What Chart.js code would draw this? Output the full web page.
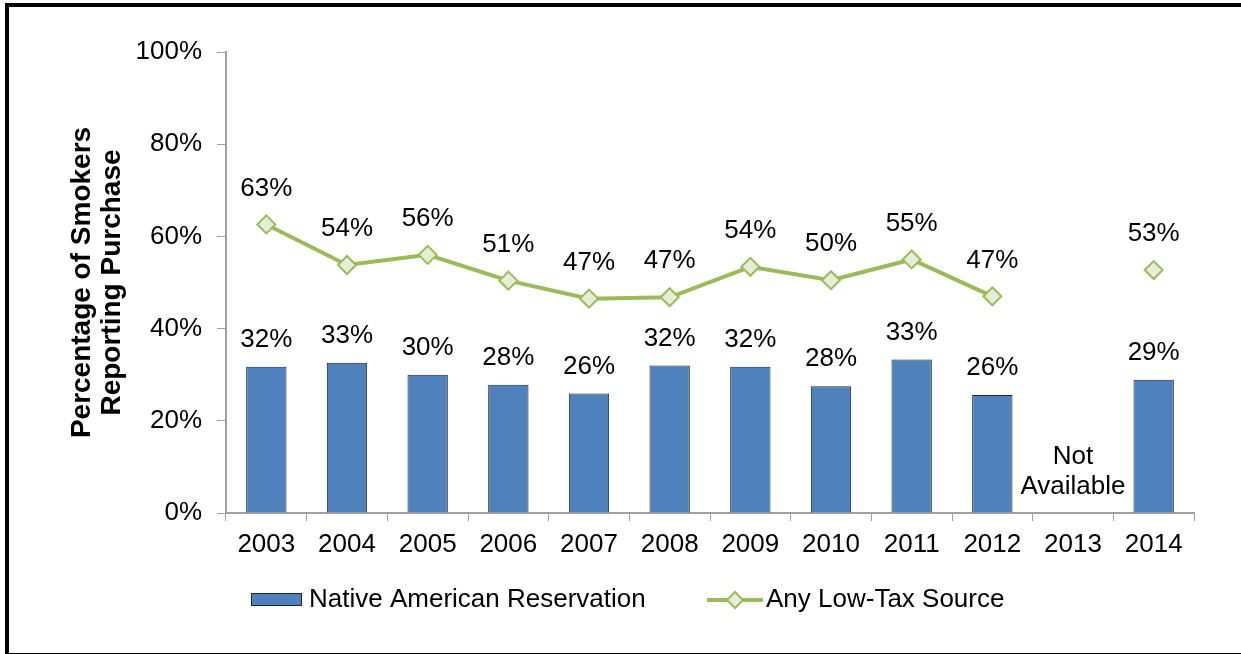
<!DOCTYPE html>
<html>
<head>
<meta charset="utf-8">
<script src="https://cdn.jsdelivr.net/npm/chart.js@4.4.1/dist/chart.umd.min.js"></script>
<style>
    html, body { margin: 0; padding: 0; background: #fff; overflow: hidden; }
    #wrap { position: relative; width: 1241px; height: 654px; }
    #frame {
        position: absolute; left: 5px; top: 3px; width: 1300px; height: 646px;
        border-left: 4px solid #000; border-top: 4px solid #000; border-bottom: 2px solid #000;
        pointer-events: none;
    }
</style>
</head>
<body>
<div id="wrap">
    <canvas id="smokers_chart" width="1241" height="654"></canvas>
    <div id="frame"></div>
</div>
<script>
const years = ['2003', '2004', '2005', '2006', '2007', '2008', '2009', '2010', '2011', '2012', '2013', '2014'];
const reservation = [31.7, 32.6, 30.0, 27.8, 25.9, 32.0, 31.7, 27.5, 33.3, 25.6, null, 28.9];
const lowTax = [62.6, 53.8, 56.0, 50.4, 46.5, 46.8, 53.4, 50.5, 55.0, 47.0, null, 52.7];
const reservationLabels = ['32%', '33%', '30%', '28%', '26%', '32%', '32%', '28%', '33%', '26%', null, '29%'];
const lowTaxLabels = ['63%', '54%', '56%', '51%', '47%', '47%', '54%', '50%', '55%', '47%', null, '53%'];
const yTicks = [0, 20, 40, 60, 80, 100];

let colors = {
    'bar': '#4F81BD',
    'bar_border': '#172538',
    'line': '#9BBB59',
    'marker': '#E5EDD6',
    'axis': '#A0A0A0',
    'text': '#000',
}

const fontFamily = "'Liberation Sans', Arial, sans-serif";
const fontSize = 26;

// value labels, the "Not Available" note and the legend at the bottom
const annotations = {
    id: 'annotations',
    afterDatasetsDraw(chart) {
        const ctx = chart.ctx;
        ctx.save();
        ctx.fillStyle = colors.text;
        ctx.font = `${fontSize}px ${fontFamily}`;
        ctx.textAlign = 'center';
        ctx.textBaseline = 'middle';

        chart.getDatasetMeta(0).data.forEach((bar, i) => {
            if (reservationLabels[i] == null) return;
            ctx.fillText(reservationLabels[i], bar.x, bar.y - 27);
        });
        chart.getDatasetMeta(1).data.forEach((pt, i) => {
            if (lowTaxLabels[i] == null) return;
            ctx.fillText(lowTaxLabels[i], pt.x, pt.y - 36);
        });

        const xNA = chart.scales.x.getPixelForValue(10);
        ctx.fillText('Not', xNA, 457);
        ctx.fillText('Available', xNA, 487);

        // legend
        ctx.textAlign = 'left';
        ctx.fillStyle = colors.bar;
        ctx.fillRect(251, 593, 51, 13);
        ctx.strokeStyle = colors.bar_border;
        ctx.lineWidth = 1;
        ctx.strokeRect(251.5, 593.5, 50, 12);
        ctx.fillStyle = colors.text;
        ctx.fillText('Native American Reservation', 309, 600);

        ctx.strokeStyle = colors.line;
        ctx.lineWidth = 4;
        ctx.beginPath();
        ctx.moveTo(707, 600);
        ctx.lineTo(763, 600);
        ctx.stroke();
        ctx.fillStyle = colors.marker;
        ctx.lineWidth = 2;
        ctx.beginPath();
        ctx.moveTo(735, 592);
        ctx.lineTo(743, 600);
        ctx.lineTo(735, 608);
        ctx.lineTo(727, 600);
        ctx.closePath();
        ctx.fill();
        ctx.stroke();
        ctx.fillStyle = colors.text;
        ctx.fillText('Any Low-Tax Source', 766, 600);
        ctx.restore();
    }
};

new Chart(document.getElementById('smokers_chart'), {
    type: 'bar',
    data: {
        labels: years,
        datasets: [{
            type: 'bar',
            label: 'Native American Reservation',
            data: reservation,
            backgroundColor: colors.bar,
            borderColor: colors.bar_border,
            borderWidth: 1,
            barPercentage: 0.5,
            categoryPercentage: 1,
            order: 2,
        },
        {
            type: 'line',
            label: 'Any Low-Tax Source',
            data: lowTax,
            borderColor: colors.line,
            borderWidth: 4,
            pointStyle: 'rectRot',
            pointRadius: 9,
            pointBorderWidth: 2,
            pointBackgroundColor: colors.marker,
            pointBorderColor: colors.line,
            spanGaps: false,
            tension: 0,
            order: 1,
        }]
    },
    options: {
        responsive: false,
        animation: false,
        layout: {
            padding: { left: 0, right: 47, top: 52, bottom: 0 }
        },
        plugins: {
            legend: { display: false },
            tooltip: { enabled: false },
        },
        scales: {
            x: {
                afterFit: (scale) => { scale.height = 141; },
                grid: {
                    offset: true,
                    drawOnChartArea: false,
                    drawTicks: true,
                    tickLength: 8,
                    color: colors.axis,
                },
                border: { display: true, color: colors.axis, width: 2 },
                ticks: {
                    color: colors.text,
                    padding: 8,
                    font: { size: fontSize, family: fontFamily }
                }
            },
            y: {
                min: 0,
                max: 100,
                afterFit: (scale) => { scale.width = 226; },
                afterBuildTicks: (scale) => { scale.ticks = yTicks.map(v => ({ value: v })); },
                grid: {
                    drawOnChartArea: false,
                    drawTicks: true,
                    tickLength: 9,
                    color: colors.axis,
                },
                border: { display: true, color: colors.axis, width: 2 },
                ticks: {
                    color: colors.text,
                    padding: 15,
                    callback: (v) => v + '%',
                    font: { size: fontSize, family: fontFamily }
                },
                title: {
                    display: true,
                    text: ['Percentage of Smokers', 'Reporting Purchase'],
                    color: colors.text,
                    padding: { top: 67, bottom: 0 },
                    font: { size: 28, weight: 'bold', family: fontFamily, lineHeight: 1.07 }
                }
            }
        }
    },
    plugins: [annotations]
});
</script>
</body>
</html>
